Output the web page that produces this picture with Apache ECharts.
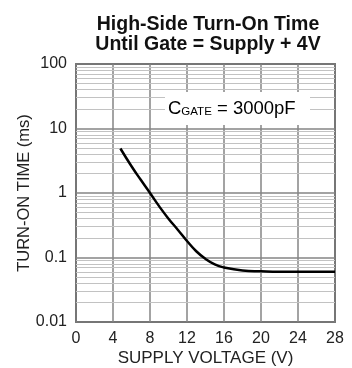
<!DOCTYPE html>
<html>
<head>
<meta charset="utf-8">
<script src="https://cdn.jsdelivr.net/npm/echarts@6/dist/echarts.min.js"></script>
<style>
  html, body { margin: 0; padding: 0; background: #fff; }
  #chart { width: 352px; height: 368px; }
</style>
</head>
<body>
<div id="chart"></div>
<script>
// supply voltage (V) and turn-on time (ms)
const voltage = [4.8, 6, 7, 8, 9, 10, 11, 12, 13, 14, 15, 16, 18, 20, 22, 24, 26, 28];
const turnOn = [4.9, 2.6, 1.6, 1.0, 0.62, 0.4, 0.27, 0.18, 0.125, 0.095, 0.078, 0.07, 0.063, 0.061, 0.06, 0.06, 0.06, 0.06];

// minor log gridlines (2..9 per decade)
const decades = [0.01, 0.1, 1, 10];
const minorSteps = [2, 3, 4, 5, 6, 7, 8, 9];

const font = 'Liberation Sans, Arial, sans-serif';

const minorLines = [];
decades.forEach(d => minorSteps.forEach(k => minorLines.push({ yAxis: +(d * k).toPrecision(3) })));

const chart = echarts.init(document.getElementById('chart'));

chart.setOption({
  animation: false,
  backgroundColor: '#fff',
  title: {
    text: 'High-Side Turn-On Time\nUntil Gate = Supply + 4V',
    left: 203,
    top: 10,
    textAlign: 'center',
    textStyle: {
      fontFamily: font,
      fontWeight: 'bold',
      fontSize: 19.5,
      lineHeight: 20,
      color: '#111'
    }
  },
  grid: {
    left: 76,
    right: 17,
    top: 64,
    bottom: 46,
    outerBoundsMode: 'none',
    show: true,
    borderColor: '#111',
    borderWidth: 1.5,
    backgroundColor: '#fff'
  },
  xAxis: {
    type: 'value',
    min: 0,
    max: 28,
    interval: 4,
    name: 'SUPPLY VOLTAGE (V)',
    nameLocation: 'middle',
    nameGap: 28,
    nameMoveOverlap: false,
    nameTextStyle: { fontFamily: font, fontSize: 17, color: '#222' },
    axisLine: { show: false },
    axisTick: { show: false },
    axisLabel: { fontFamily: font, fontSize: 16, color: '#222', margin: 9 },
    splitLine: { show: true, lineStyle: { color: '#858585', width: 1.5 } }
  },
  yAxis: {
    type: 'log',
    logBase: 10,
    min: 0.01,
    max: 100,
    name: 'TURN-ON TIME (ms)',
    nameLocation: 'middle',
    nameGap: 43,
    nameMoveOverlap: false,
    nameTextStyle: { fontFamily: font, fontSize: 16.5, color: '#222' },
    axisLine: { show: false },
    axisTick: { show: false },
    axisLabel: {
      fontFamily: font, fontSize: 16, color: '#222', margin: 9,
      formatter: v => String(+v.toPrecision(3))
    },
    splitLine: { show: true, lineStyle: { color: '#858585', width: 1.5 } }
  },
  series: [
    {
      // minor gridlines, drawn through the log axis
      type: 'line',
      data: [],
      silent: true,
      z: 1,
      markLine: {
        silent: true,
        symbol: 'none',
        label: { show: false },
        animation: false,
        lineStyle: { color: '#c2c2c2', width: 1, type: 'solid' },
        data: minorLines
      }
    },
    {
      type: 'line',
      data: voltage.map((v, i) => [v, turnOn[i]]),
      smooth: true,
      showSymbol: false,
      z: 5,
      lineStyle: { color: '#000', width: 2.5 }
    }
  ],
  graphic: [
    {
      type: 'rect',
      z: 10,
      shape: { x: 165, y: 92, width: 145, height: 33 },
      style: { fill: '#fff' }
    },
    {
      type: 'text',
      z: 11,
      left: 168,
      top: 97,
      style: {
        text: '{c|C}{s|GATE}{c| = 3000pF}',
        rich: {
          c: { fontFamily: font, fontSize: 18.5, color: '#111', lineHeight: 22, verticalAlign: 'bottom' },
          s: { fontFamily: font, fontSize: 11.5, color: '#111', lineHeight: 22, padding: [9, 0, 0, 0], verticalAlign: 'bottom' }
        }
      }
    }
  ]
});
</script>
</body>
</html>
